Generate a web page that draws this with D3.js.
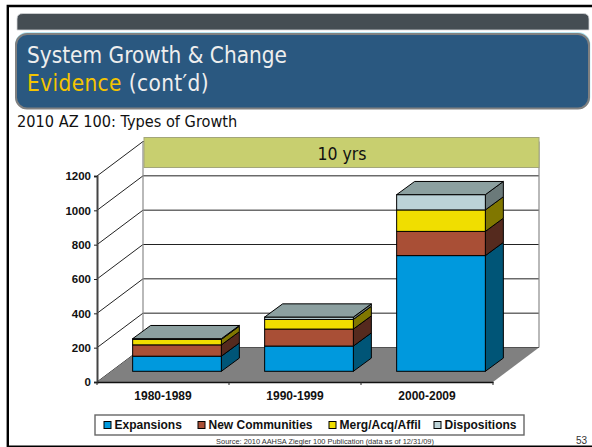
<!DOCTYPE html>
<html>
<head>
<meta charset="utf-8">
<script src="https://cdn.jsdelivr.net/npm/d3@7"></script>
<style>
  html, body { margin: 0; padding: 0; background: #fff; }
  svg { display: block; }
  text { font-family: "Liberation Sans", Arial, sans-serif; }
  .slide { font-family: "DejaVu Sans", sans-serif; font-stretch: condensed; }
</style>
</head>
<body>
<div id="chart"></div>
<script>
// Growth by decade, stacked by type
const categories = ["1980-1989", "1990-1999", "2000-2009"];
const seriesNames = ["Expansions", "New Communities", "Merg/Acq/Affil", "Dispositions"];
const expansions = [88, 147, 674];
const newCommunities = [66, 99, 141];
const mergers = [32, 56, 125];
const dispositions = [4, 14, 89];
const yTicks = [0, 200, 400, 600, 800, 1000, 1200];
const frontColors = ["#0099dd", "#a94f36", "#f0de00", "#bcd3d8"];
const sideColors = ["#005577", "#552a1e", "#807700", "#6b7a7a"];
const topColor = "#8ca0a0";

const W = 592, H = 447;
const svg = d3.select("#chart").append("svg").attr("width", W).attr("height", H);

// Slide frame
svg.append("path").attr("d", `M7.8,${H} V6 H${W}`).attr("fill", "none").attr("stroke", "#000").attr("stroke-width", 2.4);
svg.append("path").attr("d", `M7.8,446.2 H${W}`).attr("fill", "none").attr("stroke", "#000").attr("stroke-width", 1.6);

// Header bars
svg.append("path")
  .attr("d", "M17,30 V19 Q17,13.5 23,13.5 H583 Q589,13.5 589,19 V30 Z")
  .attr("fill", "#454d53").attr("stroke", "#d4d6d8").attr("stroke-width", 0.8);
svg.append("rect").attr("x", 16).attr("y", 33).attr("width", 573.5).attr("height", 75)
  .attr("rx", 11).attr("fill", "none").attr("stroke", "#a8e4f4").attr("stroke-width", 1.5);
svg.append("rect").attr("x", 16).attr("y", 34).attr("width", 573).attr("height", 74.5)
  .attr("rx", 11).attr("fill", "#2a5880").attr("stroke", "#808080").attr("stroke-width", 2);

const title = svg.append("g").attr("class", "slide").attr("font-size", 22.4);
title.append("text").attr("x", 27).attr("y", 63).attr("fill", "#eeeeee").attr("class", "slide").text("System Growth & Change");
const second = title.append("text").attr("x", 27).attr("y", 91).attr("fill", "#eeeeee").attr("class", "slide").attr("letter-spacing", 0.4);
second.append("tspan").attr("fill", "#f5c400").text("Evidence");
second.append("tspan").text(" (cont\u2032d)");

svg.append("text").attr("class", "slide").attr("x", 17).attr("y", 127).attr("font-size", 16.2)
  .attr("fill", "#111").text("2010 AZ 100: Types of Growth");

// Scales: the front plane of the chart; depth is applied as an offset
const x = d3.scaleBand().domain(categories).range([97, 493]).paddingInner(0).paddingOuter(0);
const y = d3.scaleLinear().domain([0, 1200]).range([382, 176]);
const depth = { dx: 46, dy: -34.5 };
const barOffset = { dx: 14, dy: -10.7 };
const barDepth = { dx: 18, dy: -13.2 };
const barWidth = x.bandwidth() * 0.672;

// Walls and gridlines
const wall = svg.append("g");
wall.selectAll("line.back").data(yTicks).join("line")
  .attr("x1", x.range()[0] + depth.dx).attr("x2", x.range()[1] + depth.dx)
  .attr("y1", d => y(d) + depth.dy).attr("y2", d => y(d) + depth.dy)
  .attr("stroke", "#222").attr("stroke-width", 1);
wall.selectAll("line.side").data(yTicks).join("line")
  .attr("x1", x.range()[0]).attr("x2", x.range()[0] + depth.dx)
  .attr("y1", d => y(d)).attr("y2", d => y(d) + depth.dy)
  .attr("stroke", "#222").attr("stroke-width", 1);
[x.range()[0] + depth.dx, x.range()[1] + depth.dx].forEach(px => {
  wall.append("line").attr("x1", px).attr("x2", px)
    .attr("y1", y(1200) + depth.dy).attr("y2", y(0) + depth.dy)
    .attr("stroke", "#8a8a8a").attr("stroke-width", 1.2);
});

// Floor
const fl = [
  [x.range()[0], y(0)], [x.range()[0] + depth.dx, y(0) + depth.dy],
  [x.range()[1] + depth.dx, y(0) + depth.dy], [x.range()[1], y(0)]
];
svg.append("polygon").attr("points", fl.join(" ")).attr("fill", "#808080");

// Banner across the top of the back wall
svg.append("rect").attr("x", 144).attr("y", 137.5).attr("width", 395).attr("height", 30)
  .attr("fill", "#c8cf6f").attr("stroke", "#a3a67a").attr("stroke-width", 1);
svg.append("text").attr("class", "slide").attr("x", 342).attr("y", 160).attr("text-anchor", "middle")
  .attr("font-size", 17.5).attr("fill", "#111").text("10 yrs");

// Stacked 3D columns
const table = categories.map((c, i) => ({
  category: c, Expansions: expansions[i], "New Communities": newCommunities[i],
  "Merg/Acq/Affil": mergers[i], Dispositions: dispositions[i]
}));
const stacked = d3.stack().keys(seriesNames)(table);

categories.forEach((c, i) => {
  const g = svg.append("g");
  const x0 = x(c) + (x.bandwidth() - barWidth) / 2 + barOffset.dx;
  const x1 = x0 + barWidth;
  stacked.forEach((layer, s) => {
    const yb = y(layer[i][0]) + barOffset.dy;
    const yt = y(layer[i][1]) + barOffset.dy;
    g.append("polygon")
      .attr("points", [[x1, yb], [x1 + barDepth.dx, yb + barDepth.dy], [x1 + barDepth.dx, yt + barDepth.dy], [x1, yt]].join(" "))
      .attr("fill", sideColors[s]).attr("stroke", "#000").attr("stroke-width", 1).attr("stroke-linejoin", "round");
    g.append("rect").attr("x", x0).attr("y", yt).attr("width", barWidth).attr("height", yb - yt)
      .attr("fill", frontColors[s]).attr("stroke", "#000").attr("stroke-width", 1);
  });
  const total = stacked[stacked.length - 1][i][1];
  const yt = y(total) + barOffset.dy;
  g.append("polygon")
    .attr("points", [[x0, yt], [x0 + barDepth.dx, yt + barDepth.dy], [x1 + barDepth.dx, yt + barDepth.dy], [x1, yt]].join(" "))
    .attr("fill", topColor).attr("stroke", "#000").attr("stroke-width", 1).attr("stroke-linejoin", "round");
});

// Value axis
const yAxis = svg.append("g").attr("transform", `translate(${x.range()[0]},0)`)
  .call(d3.axisLeft(y).tickValues(yTicks).tickFormat(d3.format("d")).tickSize(3).tickPadding(3));
yAxis.select(".domain").attr("stroke", "#444").attr("stroke-width", 2);
yAxis.selectAll(".tick line").attr("stroke", "#222");
yAxis.selectAll("text").attr("font-family", "Liberation Sans").attr("font-size", 11.5)
  .attr("font-weight", "bold").attr("fill", "#111");

// Category axis, with ticks on the band edges
const xAxis = svg.append("g").attr("transform", `translate(0,${y(0)})`)
  .call(d3.axisBottom(x).tickSize(0).tickPadding(9));
xAxis.select(".domain").attr("stroke", "#111").attr("stroke-width", 1.6);
xAxis.selectAll("text").attr("font-family", "Liberation Sans").attr("font-size", 12)
  .attr("font-weight", "bold").attr("fill", "#111");
xAxis.selectAll("line.edge").data(categories.map(c => x(c)).concat(x.range()[1])).join("line")
  .attr("class", "edge").attr("x1", d => d).attr("x2", d => d).attr("y1", 0).attr("y2", 3)
  .attr("stroke", "#222");

// Legend
const legendX = [104, 198, 329, 434];
svg.append("rect").attr("x", 95).attr("y", 415).attr("width", 429).attr("height", 20)
  .attr("fill", "#fff").attr("stroke", "#666").attr("stroke-width", 1.4);
const legend = svg.selectAll("g.legend").data(seriesNames).join("g").attr("class", "legend")
  .attr("transform", (d, i) => `translate(${legendX[i]},0)`);
legend.append("rect").attr("x", 0).attr("y", 421.5).attr("width", 7).attr("height", 7)
  .attr("fill", (d, i) => frontColors[i]).attr("stroke", "#000").attr("stroke-width", 1);
legend.append("text").attr("x", 10.5).attr("y", 429.3).attr("font-size", 12)
  .attr("font-weight", "bold").attr("fill", "#111").text(d => d);

// Footer
svg.append("text").attr("x", 325).attr("y", 444).attr("text-anchor", "middle").attr("font-size", 7.4)
  .attr("fill", "#333").text("Source: 2010 AAHSA Ziegler 100 Publication (data as of 12/31/09)");
svg.append("text").attr("x", 576).attr("y", 443.5).attr("font-size", 10).attr("fill", "#333").text("53");
</script>
</body>
</html>
